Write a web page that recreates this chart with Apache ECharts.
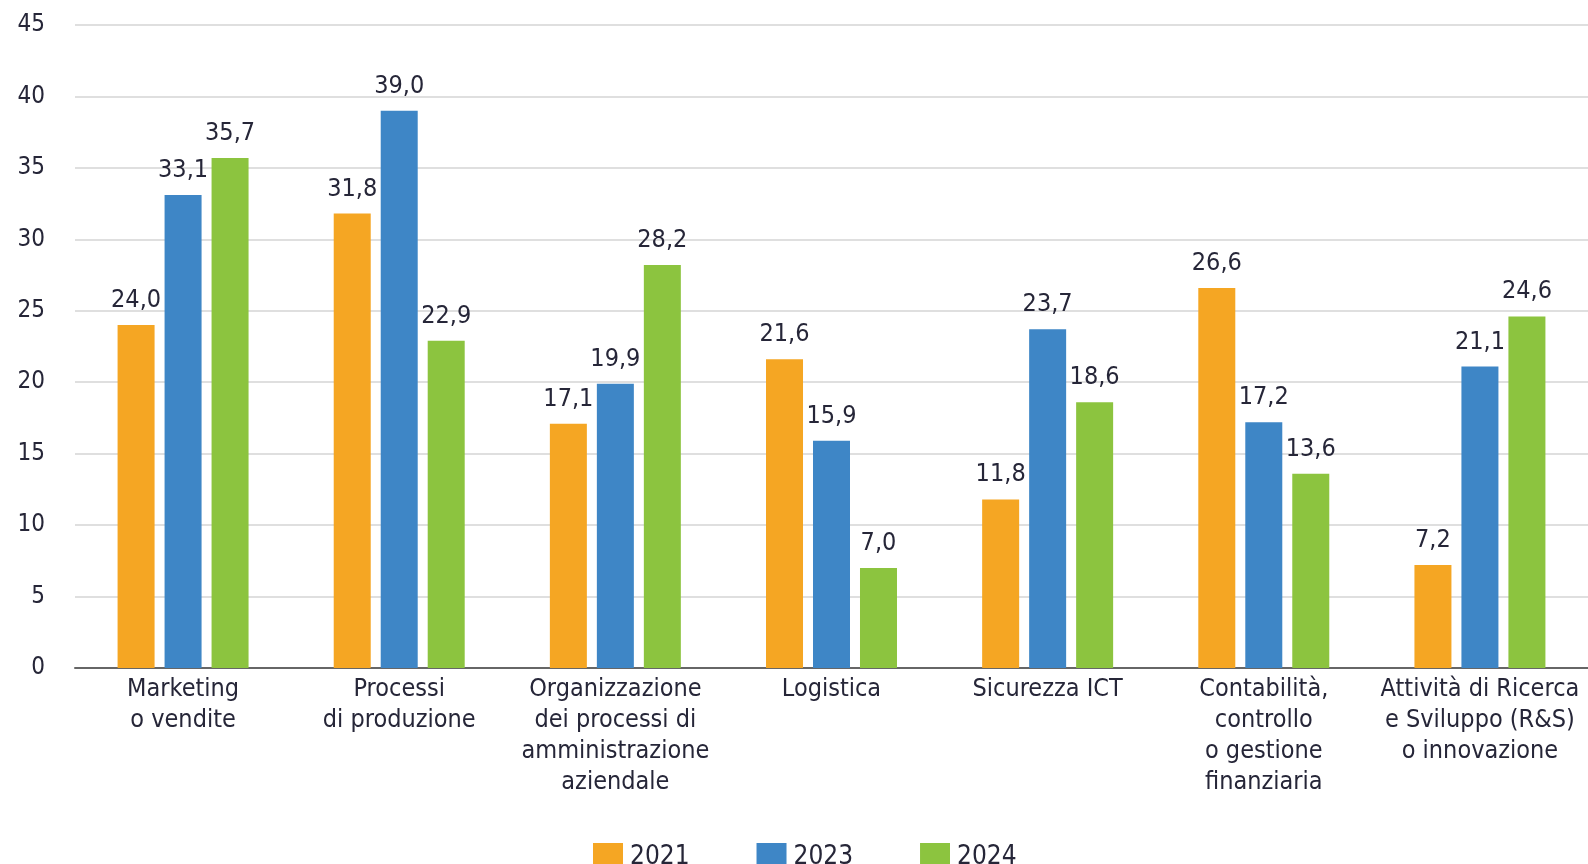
<!DOCTYPE html>
<html><head><meta charset="utf-8">
<script src="https://cdn.jsdelivr.net/npm/echarts@6/dist/echarts.min.js"></script>
<style>html,body{margin:0;padding:0;background:#fff}#c{width:1588px;height:864px}</style>
</head><body><div id="c"></div>
<script>
const categories = [
  "Marketing\no vendite",
  "Processi\ndi produzione",
  "Organizzazione\ndei processi di\namministrazione\naziendale",
  "Logistica",
  "Sicurezza ICT",
  "Contabilità,\ncontrollo\no gestione\nfinanziaria",
  "Attività di Ricerca\ne Sviluppo (R&S)\no innovazione"
];
const seriesNames = ["2021", "2023", "2024"];
const values2021 = [24.0, 31.8, 17.1, 21.6, 11.8, 26.6, 7.2];
const values2023 = [33.1, 39.0, 19.9, 15.9, 23.7, 17.2, 21.1];
const values2024 = [35.7, 22.9, 28.2, 7.0, 18.6, 13.6, 24.6];
const colors = ["#F5A623", "#3E86C6", "#8CC43F"];

const FONT = '"Liberation Sans Narrow", "DejaVu Sans Condensed", sans-serif';
const TXT = '#262638';
const chart = echarts.init(document.getElementById('c'));
const mk = (name, data, color) => ({
  name, type: 'bar', data, barWidth: 37, barGap: '27%',
  itemStyle: { color },
  label: { show: true, position: 'top', distance: 12, fontFamily: FONT, fontSize: 25, color: TXT,
    formatter: p => p.value.toFixed(1).replace('.', ',') }
});
chart.setOption({
  animation: false,
  textStyle: { fontFamily: FONT },
  grid: { left: 75, right: 0, top: 25, bottom: 196, containLabel: false },
  legend: {
    bottom: -12, left: 588, itemWidth: 30, itemHeight: 28, itemGap: 67,
    icon: 'rect',
    textStyle: { fontFamily: FONT, fontSize: 26, color: TXT, padding: [0,0,0,2] },
    data: seriesNames
  },
  xAxis: {
    type: 'category', data: categories,
    axisLine: { lineStyle: { color: '#666', width: 2 } },
    axisTick: { show: false },
    axisLabel: { interval: 0, fontFamily: FONT, fontSize: 25, color: TXT, lineHeight: 31, margin: 6 }
  },
  yAxis: {
    type: 'value', min: 0, max: 45, interval: 5,
    axisLine: { show: false }, axisTick: { show: false },
    splitLine: { lineStyle: { color: '#d4d4d4', width: 1.5 } },
    axisLabel: { fontFamily: FONT, fontSize: 24, color: TXT, margin: 30 }
  },
  series: [
    mk(seriesNames[0], values2021, colors[0]),
    mk(seriesNames[1], values2023, colors[1]),
    mk(seriesNames[2], values2024, colors[2])
  ]
});
</script></body></html>
